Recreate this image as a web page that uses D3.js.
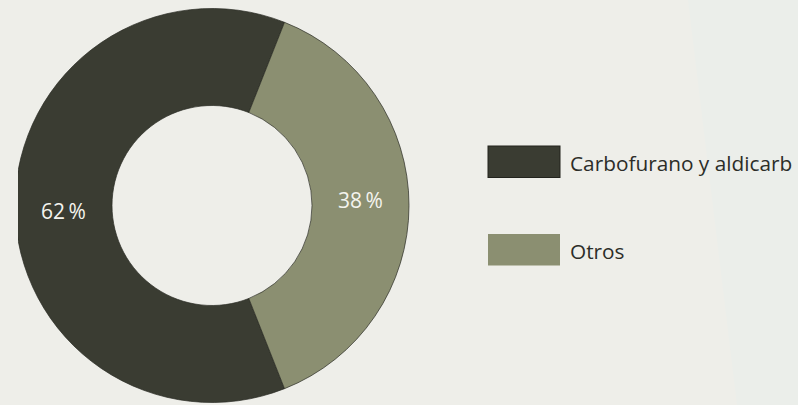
<!DOCTYPE html>
<html>
<head>
<meta charset="utf-8">
<script src="https://cdn.jsdelivr.net/npm/d3@7"></script>
<style>
  html, body { margin: 0; padding: 0; background: #eeeee9; }
  svg { display: block; }
</style>
</head>
<body>
<svg id="chart" width="798" height="405"></svg>
<script>
// Share of pesticides
const categories = ["Carbofurano y aldicarb", "Otros"];
const values = [62, 38];
const colors = ["#3a3c32", "#8b8f71"];

const W = 798, H = 405;
const cx = 212, cy = 205.5, rOuter = 197, rInner = 100;

const svg = d3.select("#chart");

// backdrop with a faint lighter band on the right
svg.append("rect").attr("width", W).attr("height", H).attr("fill", "#eeeee9");
svg.append("path")
  .attr("d", `M688,0 L${W},0 L${W},${H} L737,${H} Z`)
  .attr("fill", "#ebeeea");

svg.append("clipPath").attr("id", "plotClip")
  .append("rect").attr("x", 18).attr("y", 0).attr("width", W - 18).attr("height", H);

const total = d3.sum(values);
// rotate so the smaller slice sits centred on the right-hand side
const startAngle = Math.PI / 2 - 2 * Math.PI * (values[0] / total) - Math.PI * (values[1] / total);

const pie = d3.pie().sort(null).value(d => d)
  .startAngle(startAngle).endAngle(startAngle + 2 * Math.PI);
const arcs = pie(values);
const arc = d3.arc().innerRadius(rInner).outerRadius(rOuter);
const labelArc = d3.arc().innerRadius((rInner + rOuter) / 2).outerRadius((rInner + rOuter) / 2);

const g = svg.append("g").attr("clip-path", "url(#plotClip)")
  .append("g").attr("transform", `translate(${cx},${cy})`);

g.selectAll("path.slice").data(arcs).join("path")
  .attr("class", "slice")
  .attr("d", arc)
  .attr("fill", (d, i) => colors[i])
  .attr("stroke", "#2a2b24")
  .attr("stroke-width", 0.7);

const fmt = v => `${v}\u2009%`;
g.selectAll("text.pct").data(arcs).join("text")
  .attr("class", "pct")
  .attr("transform", (d, i) => {
    const [x, y] = labelArc.centroid(d);
    return `translate(${x},${y + (i === 0 ? 5 : -6)})`;
  })
  .attr("text-anchor", "middle")
  .attr("dominant-baseline", "central")
  .attr("font-family", "'Open Sans', 'Noto Sans', sans-serif")
  .attr("font-size", 21)
  .attr("fill", "#f4f4ee")
  .text(d => fmt(d.data));

// legend
const legend = svg.append("g").attr("transform", "translate(488,146)");
const rows = legend.selectAll("g").data(categories).join("g")
  .attr("transform", (d, i) => `translate(0,${i * 88})`);
rows.append("rect")
  .attr("width", 72).attr("height", 31.5)
  .attr("fill", (d, i) => colors[i])
  .attr("stroke", (d, i) => i === 0 ? "#22231d" : "none")
  .attr("stroke-width", 1);
rows.append("text")
  .attr("x", 82).attr("y", 24.5)
  .attr("font-family", "'Open Sans', 'Noto Sans', sans-serif")
  .attr("font-size", 20.8)
  .attr("fill", "#2c2d28")
  .text(d => d);
</script>
</body>
</html>
